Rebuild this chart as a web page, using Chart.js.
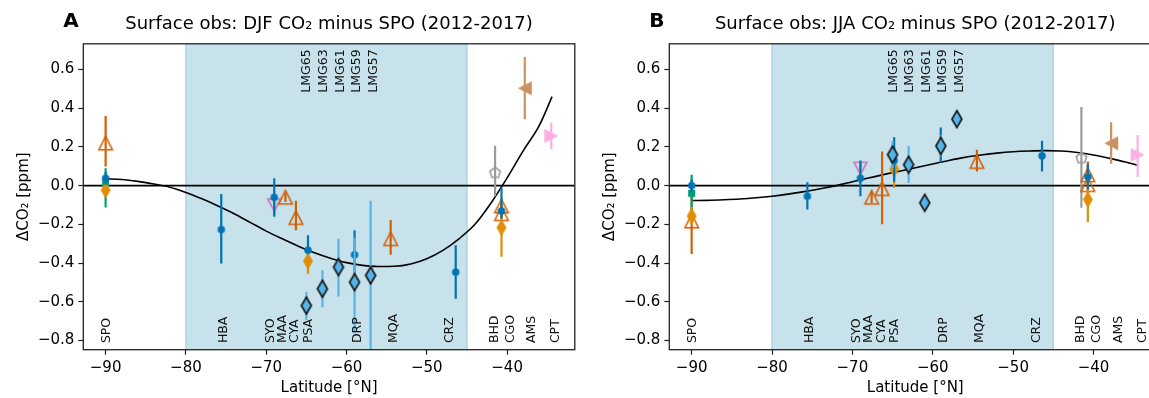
<!DOCTYPE html>
<html>
<head>
<meta charset="utf-8">
<script src="https://cdn.jsdelivr.net/npm/chart.js@4.4.0/dist/chart.umd.min.js"></script>
<style>
  html, body { margin: 0; padding: 0; background: #fff; overflow: hidden; width: 1149px; height: 398px; }
  canvas { position: absolute; top: 0; }
  #chartA { left: 0; }
  #chartB { left: 586px; }
</style>
</head>
<body>
<canvas id="chartA" width="586" height="398"></canvas>
<canvas id="chartB" width="600" height="398"></canvas>
<script>
// axes
const X_MIN = -92.78, X_MAX = -31.57;
const Y_MIN = -0.848, Y_MAX = 0.733;
const xTicks = [-90, -80, -70, -60, -50, -40];
const yTicks = [-0.8, -0.6, -0.4, -0.2, 0, 0.2, 0.4, 0.6];
const shadeLat = [-80, -45];

// text labels along the axes
const stationNames = ['SPO', 'HBA', 'SYO', 'MAA', 'CYA', 'PSA', 'DRP', 'MQA', 'CRZ', 'BHD', 'CGO', 'AMS', 'CPT'];
const stationLat = [-89.8, -75.3, -69.4, -67.9, -66.4, -64.7, -58.6, -54.1, -47.1, -41.6, -39.6, -36.9, -33.9];
const shipNames = ['LMG65', 'LMG63', 'LMG61', 'LMG59', 'LMG57'];
const shipLat = [-64.9, -62.8, -60.75, -58.7, -56.6];

// fitted curves
const curveLat = [-90, -88, -86, -84, -82, -80, -78, -76, -74, -72, -70, -68, -66, -64, -62, -60, -58, -56, -54, -52, -50, -48, -46, -44, -42, -40, -38, -36, -34.4];
const djfCurve = [0.035, 0.032, 0.022, 0.008, -0.008, -0.035, -0.068, -0.105, -0.145, -0.19, -0.235, -0.275, -0.313, -0.347, -0.375, -0.398, -0.412, -0.418, -0.417, -0.405, -0.378, -0.335, -0.275, -0.2, -0.09, 0.04, 0.18, 0.31, 0.46];
const jjaCurve = [-0.077, -0.076, -0.073, -0.069, -0.063, -0.055, -0.044, -0.031, -0.016, 0.0, 0.02, 0.039, 0.058, 0.076, 0.094, 0.112, 0.13, 0.146, 0.158, 0.168, 0.175, 0.179, 0.181, 0.179, 0.171, 0.158, 0.141, 0.122, 0.104];

// blue circles
const blueLat = [-90, -75.6, -69.0, -64.8, -59.0, -46.4, -40.7];
const djfBlue = [0.038, -0.227, -0.061, -0.334, -0.357, -0.447, -0.131];
const djfBlueLo = [0.005, -0.403, -0.161, -0.35, -0.49, -0.585, -0.17];
const djfBlueHi = [0.07, -0.043, 0.038, -0.256, -0.23, -0.308, -0.01];
const jjaBlue = [0.0, -0.055, 0.038, 0.13, 0.21, 0.154, 0.045];
const jjaBlueLo = [-0.03, -0.123, -0.055, 0.02, 0.12, 0.073, -0.02];
const jjaBlueHi = [0.03, 0.017, 0.13, 0.25, 0.30, 0.232, 0.11];

// open triangles (orange-red)
const triLat = [-90, -67.6, -66.3, -54.5, -40.7, -40.7];
const djfTri = [0.22, -0.06, -0.165, -0.274, -0.105, -0.145];
const djfTriLo = [0.099, -0.085, -0.23, -0.357, -0.13, -0.17];
const djfTriHi = [0.36, -0.035, -0.078, -0.178, -0.08, -0.12];
const jjaTri = [-0.183, -0.06, -0.015, 0.125, 0.056, 0.005];
const jjaTriLo = [-0.354, -0.09, -0.2, 0.073, -0.05, -0.05];
const jjaTriHi = [-0.01, -0.03, 0.176, 0.185, 0.125, 0.06];

// orange diamonds
const diaLat = [-90, -64.8, -40.7];
const djfDia = [-0.023, -0.39, -0.217];
const djfDiaLo = [-0.05, -0.455, -0.367];
const djfDiaHi = [0.005, -0.325, -0.067];
const jjaDia = [-0.157, 0.086, -0.072];
const jjaDiaLo = [-0.2, -0.012, -0.188];
const jjaDiaHi = [-0.11, 0.184, 0.04];

// green square
const sqLat = [-90];
const djfSq = [0.012], djfSqLo = [-0.113], djfSqHi = [0.09];
const jjaSq = [-0.04], jjaSqLo = [-0.14], jjaSqHi = [0.056];

// SYO down triangle
const syoLat = [-69.0];
const djfSyo = [-0.1], djfSyoLo = [-0.15], djfSyoHi = [-0.06];
const jjaSyo = [0.09], jjaSyoLo = [0.07], jjaSyoHi = [0.11];

// ship diamonds
const lmgLat = [-65, -63, -61, -59, -57];
const djfLmg = [-0.62, -0.533, -0.421, -0.499, -0.464];
const djfLmgLo = [-0.694, -0.629, -0.573, -0.76, -0.9];
const djfLmgHi = [-0.548, -0.438, -0.274, -0.27, -0.078];
const jjaLmg = [0.16, 0.108, -0.089, 0.205, 0.344];
const jjaLmgLo = [0.09, 0.014, -0.1, 0.15, 0.33];
const jjaLmgHi = [0.23, 0.205, -0.078, 0.26, 0.36];

// BHD, AMS, CPT
const bhdLat = [-41.5];
const djfBhd = [0.066], djfBhdLo = [-0.055], djfBhdHi = [0.206];
const jjaBhd = [0.142], jjaBhdLo = [-0.114], jjaBhdHi = [0.407];
const amsLat = [-37.8];
const djfAms = [0.503], djfAmsLo = [0.343], djfAmsHi = [0.665];
const jjaAms = [0.219], jjaAmsLo = [0.113], jjaAmsHi = [0.327];
const cptLat = [-34.5];
const djfCpt = [0.257], djfCptLo = [0.188], djfCptHi = [0.326];
const jjaCpt = [0.159], jjaCptLo = [0.045], jjaCptHi = [0.262];

const FONT = "'DejaVu Sans', sans-serif";
const C = {
    blue: '#0173b2', red: '#d55e00', orange: '#de8f05', green: '#029e73',
    purple: '#cc78bc', light: '#56b4e9', gray: '#9a9a9a', brown: '#ca9161', pink: '#fbafe4'
};

// marker images (matplotlib-like shapes)
function marker(shape, w, h, fill, stroke, lw) {
    const pad = Math.ceil(lw || 0) + 1;
    const c = document.createElement('canvas');
    c.width = Math.ceil(w + 2 * pad);
    c.height = Math.ceil(h + 2 * pad);
    const g = c.getContext('2d');
    const cx = c.width / 2, cy = c.height / 2, rx = w / 2, ry = h / 2;
    g.beginPath();
    if (shape === 'circle') {
        g.arc(cx, cy, rx, 0, Math.PI * 2);
    } else {
        let pts;
        if (shape === 'up') pts = [[0, -1], [1, 1], [-1, 1]];
        if (shape === 'down') pts = [[0, 1], [1, -1], [-1, -1]];
        if (shape === 'left') pts = [[-1, 0], [1, -1], [1, 1]];
        if (shape === 'right') pts = [[1, 0], [-1, -1], [-1, 1]];
        if (shape === 'diamond') pts = [[0, -1], [1, 0], [0, 1], [-1, 0]];
        if (shape === 'square') pts = [[-1, -1], [1, -1], [1, 1], [-1, 1]];
        if (shape === 'pentagon') pts = [0, 1, 2, 3, 4].map(k => [Math.sin(k * 2 * Math.PI / 5), -Math.cos(k * 2 * Math.PI / 5)]);
        pts.forEach(([px, py], i) => {
            if (i === 0) g.moveTo(cx + px * rx, cy + py * ry);
            else g.lineTo(cx + px * rx, cy + py * ry);
        });
        g.closePath();
    }
    if (fill) { g.fillStyle = fill; g.fill(); }
    if (stroke) { g.lineWidth = lw; g.strokeStyle = stroke; g.lineJoin = 'miter'; g.stroke(); }
    return c;
}

const MK = {
    blue: marker('circle', 7.5, 7.5, C.blue, null, 0),
    tri: marker('up', 13.5, 13.5, null, C.red, 1.6),
    dia: marker('diamond', 10, 17, C.orange, null, 0),
    sq: marker('square', 7, 7, C.green, null, 0),
    syo: marker('down', 13, 12, null, C.purple, 1.6),
    lmg: marker('diamond', 10, 17, C.light, '#111', 1.6),
    bhd: marker('pentagon', 11, 11, null, C.gray, 1.6),
    ams: marker('left', 14, 14, C.brown, null, 0),
    cpt: marker('right', 14, 14, C.pink, null, 0)
};

function series(lat, val, lo, hi, mk, color, order) {
    const pts = lat.map((x, i) => ({ x: x, y: val[i] }));
    const bars = [];
    lat.forEach((x, i) => { bars.push({ x: x, y: lo[i] }, { x: x, y: hi[i] }, { x: x, y: null }); });
    return [
        { data: bars, showLine: true, spanGaps: false, borderColor: color, borderWidth: 2.2, pointRadius: 0, order: order + 0.5 },
        { data: pts, showLine: false, pointStyle: mk, pointRadius: 6, order: order }
    ];
}

function lineSet(xs, ys, width, order, smooth) {
    return {
        data: xs.map((x, i) => ({ x: x, y: ys[i] })),
        showLine: true, borderColor: '#000', borderWidth: width, pointRadius: 0, order: order,
        cubicInterpolationMode: smooth ? 'monotone' : 'default'
    };
}

const minus = s => s.replace('-', '\u2212');

const panelDecor = {
    id: 'panelDecor',
    beforeDatasetsDraw(chart) {
        const { ctx, chartArea: a, scales: { x } } = chart;
        const x0 = x.getPixelForValue(shadeLat[0]), x1 = x.getPixelForValue(shadeLat[1]);
        ctx.save();
        ctx.fillStyle = 'rgb(199,226,235)';
        ctx.fillRect(x0, a.top, x1 - x0, a.bottom - a.top);
        ctx.strokeStyle = 'rgb(172,213,229)';
        ctx.lineWidth = 1.5;
        ctx.beginPath();
        ctx.moveTo(x0, a.top); ctx.lineTo(x0, a.bottom);
        ctx.moveTo(x1, a.top); ctx.lineTo(x1, a.bottom);
        ctx.stroke();
        ctx.restore();
    },
    afterDatasetsDraw(chart) {
        const { ctx, scales: { x, y } } = chart;
        ctx.save();
        ctx.fillStyle = '#111';
        ctx.font = '12.5px ' + FONT;
        ctx.textBaseline = 'middle';
        ctx.textAlign = 'left';
        stationNames.forEach((name, i) => {
            ctx.save();
            ctx.translate(x.getPixelForValue(stationLat[i]), y.getPixelForValue(-0.814));
            ctx.rotate(-Math.PI / 2);
            ctx.fillText(name, 0, 0);
            ctx.restore();
        });
        ctx.textAlign = 'right';
        shipNames.forEach((name, i) => {
            ctx.save();
            ctx.translate(x.getPixelForValue(shipLat[i]), y.getPixelForValue(0.704));
            ctx.rotate(-Math.PI / 2);
            ctx.fillText(name, 0, 0);
            ctx.restore();
        });
        ctx.restore();
    },
    afterDraw(chart, args, opts) {
        const { ctx, chartArea: a } = chart;
        ctx.save();
        ctx.strokeStyle = '#222';
        ctx.lineWidth = 1.3;
        ctx.strokeRect(a.left, a.top, a.right - a.left, a.bottom - a.top);

        ctx.fillStyle = '#000';
        const cx = (a.left + a.right) / 2;
        ctx.textAlign = 'center';
        ctx.textBaseline = 'alphabetic';
        ctx.font = '18px ' + FONT;
        ctx.fillText(opts.title, cx, 29);
        ctx.font = 'bold 20px ' + FONT;
        ctx.textAlign = 'left';
        ctx.fillText(opts.letter, a.left - 20, 27);

        ctx.font = '15px ' + FONT;
        ctx.textAlign = 'center';
        ctx.textBaseline = 'middle';
        ctx.fillText('Latitude [\u00b0N]', cx, 388);
        ctx.save();
        ctx.translate(24, (a.top + a.bottom) / 2);
        ctx.rotate(-Math.PI / 2);
        ctx.fillText('\u0394CO\u2082 [ppm]', 0, 0);
        ctx.restore();
        ctx.restore();
    }
};

function buildChart(id, plotRight, s, letter, title) {
    const datasets = [
        lineSet([X_MIN, X_MAX], [0, 0], 1.6, 90, false),
        lineSet(curveLat, s.curve, 1.6, 80, true),
        ...series(lmgLat, s.lmg[0], s.lmg[1], s.lmg[2], MK.lmg, C.light, 10),
        ...series(blueLat, s.blue[0], s.blue[1], s.blue[2], MK.blue, C.blue, 20),
        ...series(diaLat, s.dia[0], s.dia[1], s.dia[2], MK.dia, C.orange, 30),
        ...series(sqLat, s.sq[0], s.sq[1], s.sq[2], MK.sq, C.green, 35),
        ...series(triLat, s.tri[0], s.tri[1], s.tri[2], MK.tri, C.red, 50),
        ...series(syoLat, s.syo[0], s.syo[1], s.syo[2], MK.syo, C.purple, 55),
        ...series(bhdLat, s.bhd[0], s.bhd[1], s.bhd[2], MK.bhd, C.gray, 60),
        ...series(amsLat, s.ams[0], s.ams[1], s.ams[2], MK.ams, C.brown, 60),
        ...series(cptLat, s.cpt[0], s.cpt[1], s.cpt[2], MK.cpt, C.pink, 60)
    ];
    const canvas = document.getElementById(id);
    return new Chart(canvas, {
        type: 'scatter',
        data: { datasets: datasets },
        plugins: [panelDecor],
        options: {
            responsive: false,
            animation: false,
            devicePixelRatio: 1,
            events: [],
            layout: { padding: { top: 43.8, bottom: 0, left: 0, right: canvas.width - plotRight } },
            plugins: {
                legend: { display: false },
                tooltip: { enabled: false },
                title: { display: false },
                panelDecor: { letter: letter, title: title }
            },
            scales: {
                x: {
                    type: 'linear', min: X_MIN, max: X_MAX,
                    afterFit: sc => { sc.height = 398 - 349.7; },
                    afterBuildTicks: sc => { sc.ticks = xTicks.map(v => ({ value: v })); },
                    grid: { drawOnChartArea: false, drawTicks: true, tickLength: 5, tickWidth: 1.2, tickColor: '#222' },
                    border: { display: false },
                    ticks: { color: '#000', padding: 4, maxRotation: 0, font: { family: FONT, size: 15 }, callback: v => minus(String(v)) }
                },
                y: {
                    type: 'linear', min: Y_MIN, max: Y_MAX,
                    afterFit: sc => { sc.width = 83.3; },
                    afterBuildTicks: sc => { sc.ticks = yTicks.map(v => ({ value: v })); },
                    grid: { drawOnChartArea: false, drawTicks: true, tickLength: 5, tickWidth: 1.2, tickColor: '#222' },
                    border: { display: false },
                    ticks: { color: '#000', padding: 4, font: { family: FONT, size: 15 }, callback: v => minus(v.toFixed(1)) }
                }
            }
        }
    });
}

buildChart('chartA', 574.8, {
    curve: djfCurve,
    blue: [djfBlue, djfBlueLo, djfBlueHi],
    tri: [djfTri, djfTriLo, djfTriHi],
    dia: [djfDia, djfDiaLo, djfDiaHi],
    sq: [djfSq, djfSqLo, djfSqHi],
    syo: [djfSyo, djfSyoLo, djfSyoHi],
    lmg: [djfLmg, djfLmgLo, djfLmgHi],
    bhd: [djfBhd, djfBhdLo, djfBhdHi],
    ams: [djfAms, djfAmsLo, djfAmsHi],
    cpt: [djfCpt, djfCptLo, djfCptHi]
}, 'A', 'Surface obs: DJF CO\u2082 minus SPO (2012-2017)');

buildChart('chartB', 575.2, {
    curve: jjaCurve,
    blue: [jjaBlue, jjaBlueLo, jjaBlueHi],
    tri: [jjaTri, jjaTriLo, jjaTriHi],
    dia: [jjaDia, jjaDiaLo, jjaDiaHi],
    sq: [jjaSq, jjaSqLo, jjaSqHi],
    syo: [jjaSyo, jjaSyoLo, jjaSyoHi],
    lmg: [jjaLmg, jjaLmgLo, jjaLmgHi],
    bhd: [jjaBhd, jjaBhdLo, jjaBhdHi],
    ams: [jjaAms, jjaAmsLo, jjaAmsHi],
    cpt: [jjaCpt, jjaCptLo, jjaCptHi]
}, 'B', 'Surface obs: JJA CO\u2082 minus SPO (2012-2017)');
</script>
</body>
</html>
